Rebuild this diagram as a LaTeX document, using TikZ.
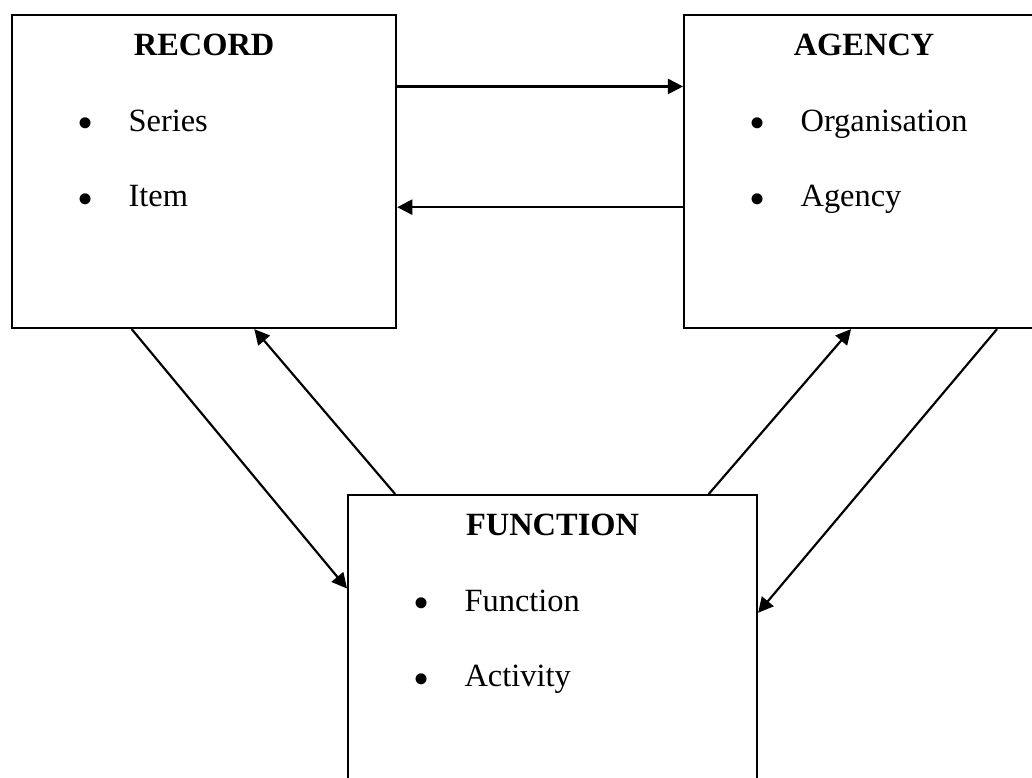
\documentclass[tikz,border=0pt]{standalone}
\usepackage{fontspec}
\setmainfont{Liberation Serif}
\usetikzlibrary{arrows.meta,calc}
\newcommand\itemdot{\llap{\raisebox{-2.8pt}{\fontsize{17}{17}\selectfont\textbullet}\hspace{13pt}}}

\begin{document}
\begin{tikzpicture}[x=1pt,y=-1pt,font=\fontsize{12}{14.4}\selectfont,box/.style={draw,line width=.8pt,minimum height=115.8pt,inner sep=0pt,anchor=north west},title/.style={font=\fontsize{12}{14.4}\selectfont\bfseries,inner sep=0pt},entry/.style={anchor=base west,inner sep=0pt},arrow/.style={-{Triangle[length=5.6pt,width=5.6pt]},line width=.8pt}]
\useasboundingbox (0,0) rectangle (381.84,287.86);
\node[box,minimum width=142.1pt] (record) at (4.07,5.18) {};
\node[box,minimum width=133.2pt] (agency) at (252.71,5.18) {};
\node[box,minimum width=151.3pt] (function) at (128.39,182.78) {};
\node[title] (recordtitle) at ([yshift=-11.5pt]record.north) {RECORD};
\node[title] (agencytitle) at ([yshift=-11.5pt]agency.north) {AGENCY};
\node[title] (functiontitle) at ([yshift=-11.5pt]function.north) {FUNCTION};
\node[entry] (series) at ([xshift=43.3pt,yshift=-43.3pt]record.north west) {\itemdot Series};
\node[entry] (item) at ([xshift=43.3pt,yshift=-71.4pt]record.north west) {\itemdot Item};
\node[entry] (organisation) at ([xshift=43.3pt,yshift=-43.3pt]agency.north west) {\itemdot Organisation};
\node[entry] (agencyitem) at ([xshift=43.3pt,yshift=-71.4pt]agency.north west) {\itemdot Agency};
\node[entry] (functionitem) at ([xshift=43.3pt,yshift=-43.3pt]function.north west) {\itemdot Function};
\node[entry] (activity) at ([xshift=43.3pt,yshift=-71.4pt]function.north west) {\itemdot Activity};
\draw[arrow] ($(record.north east)!.23!(record.south east)$) -- ($(agency.north west)!.23!(agency.south west)$);
\draw[arrow] ($(agency.north west)!.613!(agency.south west)$) -- ($(record.north east)!.613!(record.south east)$);
\draw[arrow] ($(record.south west)!.3125!(record.south east)$) -- ($(function.north west)!.30!(function.south west)$);
\draw[arrow] ($(function.north west)!.117!(function.north east)$) -- ($(record.south west)!.63!(record.south east)$);
\draw[arrow] ($(function.north west)!.88!(function.north east)$) -- ($(agency.south west)!.464!(agency.south east)$);
\draw[arrow] ($(agency.south west)!.867!(agency.south east)$) -- ($(function.north east)!.377!(function.south east)$);
\end{tikzpicture}
\end{document}
